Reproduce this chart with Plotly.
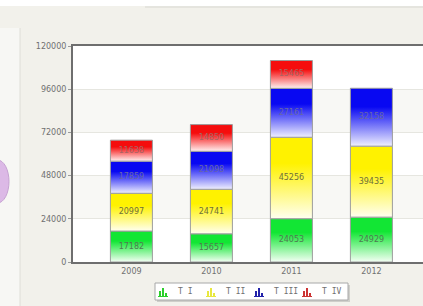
import plotly.graph_objects as go

years = ['2009', '2010', '2011', '2012']
series_names = ['T I', 'T II', 'T III', 'T IV']
t1 = [17182, 15657, 24053, 24929]
t2 = [20997, 24741, 45256, 39435]
t3 = [17859, 21098, 27161, 32158]
t4 = [11638, 14850, 15465, 0]
y_ticks = [0, 24000, 48000, 72000, 96000, 120000]

series_values = [t1, t2, t3, t4]
colors = ['#12e634', '#fff200', '#0808f2', '#f50d0d']
light = ['#f4fff4', '#fffff0', '#f0f0ff', '#fff2f2']
legend_colors = ['#2ccf2c', '#e8e840', '#2222aa', '#cc3333']
text_colors = ['#4f7a52', '#6f6f3a', '#6666a8', '#a86464']

W, H = 423, 306
L, T, B = 73, 46, 44
PW, PH = W - L, H - T - B
half = 21 / 80.0

fig = go.Figure()

cum = [0] * len(years)
for i, (name, vals) in enumerate(zip(series_names, series_values)):
    for j, v in enumerate(vals):
        if v <= 0:
            continue
        b0, b1 = cum[j], cum[j] + v
        fig.add_trace(go.Scatter(
            x=[j - half, j + half, j + half, j - half, j - half],
            y=[b0, b0, b1, b1, b0],
            mode='lines', fill='toself',
            fillgradient=dict(type='vertical',
                              colorscale=[[0, light[i]], [0.68, colors[i]], [1, colors[i]]]),
            line=dict(color='#9c9c9c', width=1),
            name=name, legendgroup=name, showlegend=False,
            hoverinfo='skip'))
    for j, v in enumerate(vals):
        cum[j] += v

cum = [0] * len(years)
for i, vals in enumerate(series_values):
    xs, ys, ts = [], [], []
    for j, v in enumerate(vals):
        if v > 0:
            xs.append(j)
            ys.append(cum[j] + v / 2)
            ts.append(str(v))
        cum[j] += v
    fig.add_trace(go.Scatter(x=xs, y=ys, text=ts, mode='text',
                             textfont=dict(family='DejaVu Sans', size=8, color=text_colors[i]),
                             showlegend=False, hoverinfo='skip'))

# alternating bands
shapes = []
annotations = []
for k in range(1, len(y_ticks) - 1, 2):
    shapes.append(dict(type='rect', xref='paper', yref='y', x0=0, x1=1,
                       y0=y_ticks[k], y1=y_ticks[k + 1], fillcolor='#f8f8f5',
                       line=dict(width=0), layer='below'))

def px_x(p):
    return (p - L) / PW

def px_y(p):
    return (H - B - p) / PH

def prect(x0, y0, x1, y1, **kw):
    d = dict(type='rect', xref='paper', yref='paper',
             x0=px_x(x0), x1=px_x(x1), y0=px_y(y1), y1=px_y(y0))
    d.update(kw)
    return d

# decorations around the chart
shapes.append(prect(-5, -5, W + 5, 6, fillcolor='#ffffff', line=dict(width=0), layer='below'))
shapes.append(dict(type='line', xref='paper', yref='paper', x0=px_x(145), x1=px_x(W + 5),
                   y0=px_y(7), y1=px_y(7), line=dict(color='#d8d8d2', width=1), layer='below'))
shapes.append(prect(-5, 28, 20, H + 5, fillcolor='#f7f7f4', line=dict(width=0), layer='below'))
shapes.append(dict(type='line', xref='paper', yref='paper', x0=px_x(20), x1=px_x(20),
                   y0=px_y(H + 5), y1=px_y(28), line=dict(color='#deded8', width=1), layer='below'))
shapes.append(dict(type='circle', xref='paper', yref='paper', x0=px_x(-14), x1=px_x(9),
                   y0=px_y(203), y1=px_y(160), fillcolor='#dcb9e6',
                   line=dict(color='#c6a2d2', width=1), layer='below'))

# legend box (drawn as a panel under the plot)
shapes.append(prect(157, 285, 350, 302, fillcolor='#cfcfca', line=dict(width=0), layer='above'))
shapes.append(prect(155, 283, 348, 300, fillcolor='#ffffff',
                    line=dict(color='#a8a8a8', width=1), layer='above'))
icon_x = [159, 207, 255, 303]
text_x = [176, 224, 272, 320]
bar_h = [5, 8, 3]
for i, name in enumerate(series_names):
    for k, h in enumerate(bar_h):
        x0 = icon_x[i] + k * 3
        shapes.append(prect(x0, 296 - h, x0 + 2, 296, fillcolor=legend_colors[i],
                            line=dict(width=0), layer='above'))
    shapes.append(dict(type='line', xref='paper', yref='paper', x0=px_x(icon_x[i] - 1),
                       x1=px_x(icon_x[i] + 9), y0=px_y(296.5), y1=px_y(296.5),
                       line=dict(color=legend_colors[i], width=1), layer='above'))
    annotations.append(dict(xref='paper', yref='paper', x=px_x(text_x[i]), y=px_y(291.5),
                            xanchor='left', yanchor='middle', showarrow=False, text=name,
                            font=dict(family='DejaVu Sans Mono', size=8, color='#707070')))

fig.update_layout(
    width=W, height=H,
    margin=dict(l=L, r=0, t=T, b=B, autoexpand=False),
    paper_bgcolor='#f2f1eb',
    plot_bgcolor='#ffffff',
    showlegend=False,
    xaxis=dict(range=[-0.73, 3.645], tickmode='array', tickvals=list(range(len(years))),
               ticktext=years, showgrid=False, zeroline=False,
               showline=True, linecolor='#6e6e6e', linewidth=2, mirror=True,
               tickfont=dict(family='DejaVu Sans', size=8, color='#707070'),
               ticks='', fixedrange=True),
    yaxis=dict(range=[0, 120000], tickmode='array', tickvals=y_ticks,
               ticktext=[str(v) for v in y_ticks],
               showgrid=True, gridcolor='#e6e6e0', gridwidth=1, zeroline=False,
               showline=True, linecolor='#6e6e6e', linewidth=2,
               ticks='outside', ticklen=3, tickcolor='#9a9a9a',
               tickfont=dict(family='DejaVu Sans', size=8, color='#707070'),
               fixedrange=True),
    shapes=shapes,
    annotations=annotations,
)

fig.write_html('out.html', config={'displayModeBar': False},
               post_script="document.body.style.margin='0';document.body.style.overflow='hidden';")
